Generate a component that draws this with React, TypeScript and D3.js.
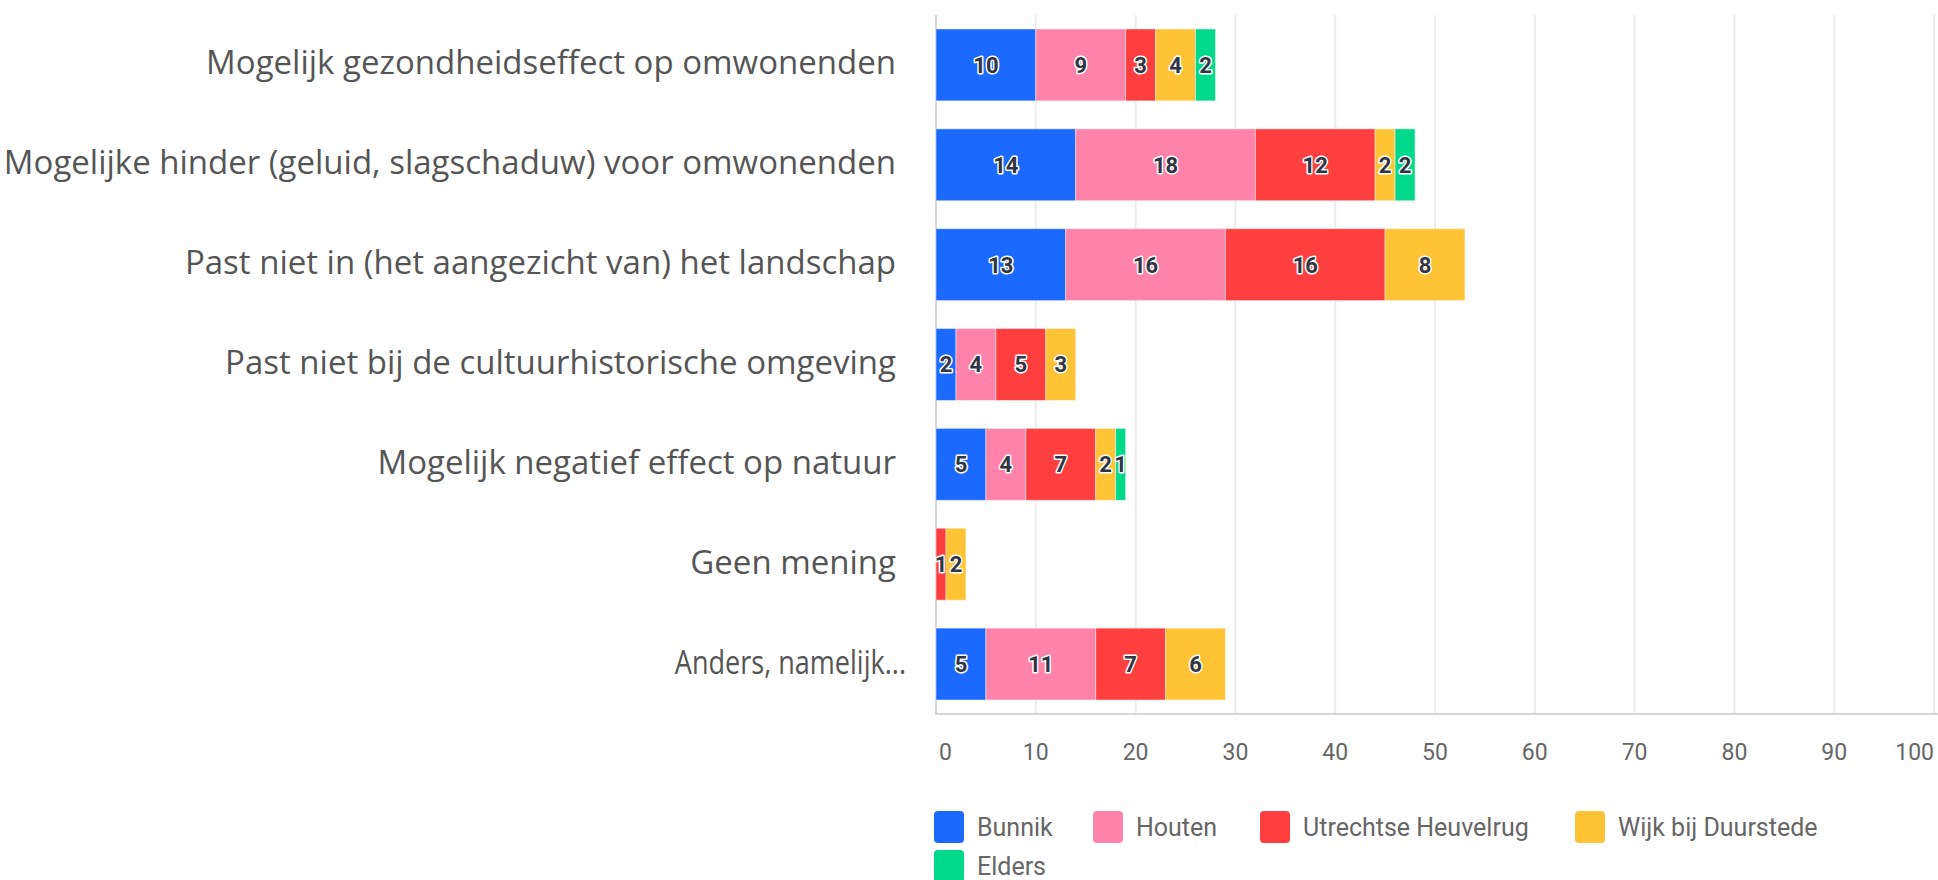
import React, { useEffect, useRef } from "react";
import * as d3 from "d3";

const categories = [
  "Mogelijk gezondheidseffect op omwonenden",
  "Mogelijke hinder (geluid, slagschaduw) voor omwonenden",
  "Past niet in (het aangezicht van) het landschap",
  "Past niet bij de cultuurhistorische omgeving",
  "Mogelijk negatief effect op natuur",
  "Geen mening",
  "Anders, namelijk...",
];

const seriesNames = ["Bunnik", "Houten", "Utrechtse Heuvelrug", "Wijk bij Duurstede", "Elders"];
const seriesColors = ["#1c69ff", "#ff82aa", "#ff3f3f", "#ffc336", "#00d98b"];

const bunnik = [10, 14, 13, 2, 5, 0, 5];
const houten = [9, 18, 16, 4, 4, 0, 11];
const utrechtseHeuvelrug = [3, 12, 16, 5, 7, 1, 7];
const wijkBijDuurstede = [4, 2, 8, 3, 2, 2, 6];
const elders = [2, 2, 0, 0, 1, 0, 0];

const xTicks = [0, 10, 20, 30, 40, 50, 60, 70, 80, 90, 100];

const W = 1938;
const H = 880;

export default function App() {
  const ref = useRef<SVGSVGElement>(null);

  useEffect(() => {
    document.body.style.margin = "0";
    document.body.style.overflow = "hidden";
    const svg = d3.select(ref.current);
    svg.selectAll("*").remove();

    const left = 936;
    const right = 1934;
    const top = 15;
    const bottom = 714;

    const x = d3.scaleLinear().domain([0, 100]).range([left, right]);
    const y = d3
      .scaleBand<string>()
      .domain(categories)
      .range([top, bottom])
      .paddingInner(0.28)
      .paddingOuter(0.14);

    const rows = categories.map((c, i) => ({
      cat: c,
      Bunnik: bunnik[i],
      Houten: houten[i],
      "Utrechtse Heuvelrug": utrechtseHeuvelrug[i],
      "Wijk bij Duurstede": wijkBijDuurstede[i],
      Elders: elders[i],
    }));
    const stack = d3.stack<any>().keys(seriesNames)(rows);

    // gridlines
    svg
      .append("g")
      .selectAll("line")
      .data(xTicks.slice(1))
      .join("line")
      .attr("x1", (d) => x(d))
      .attr("x2", (d) => x(d))
      .attr("y1", top)
      .attr("y2", bottom)
      .attr("stroke", "#ececec")
      .attr("stroke-width", 2);

    // axis lines
    svg
      .append("line")
      .attr("x1", left)
      .attr("x2", left)
      .attr("y1", top)
      .attr("y2", bottom)
      .attr("stroke", "#d6d6d6")
      .attr("stroke-width", 2);
    svg
      .append("line")
      .attr("x1", left - 1)
      .attr("x2", W)
      .attr("y1", bottom)
      .attr("y2", bottom)
      .attr("stroke", "#d6d6d6")
      .attr("stroke-width", 2);

    // tick labels
    svg
      .append("g")
      .selectAll("text")
      .data(xTicks)
      .join("text")
      .attr("x", (d, i) => (i === 0 ? x(d) + 3 : x(d)))
      .attr("y", 760)
      .attr("text-anchor", (d, i) => (i === 0 ? "start" : i === xTicks.length - 1 ? "end" : "middle"))
      .attr("font-family", "Roboto, 'Open Sans', sans-serif")
      .attr("font-size", 23)
      .attr("fill", "#666")
      .text((d) => String(d));

    // category labels
    const lastCat = categories[categories.length - 1];
    svg
      .append("g")
      .selectAll("text")
      .data(categories)
      .join("text")
      .attr("transform", (d) => {
        const cy = (y(d) as number) + y.bandwidth() / 2 - 2;
        return d === lastCat ? `translate(906,${cy}) scale(0.82,1)` : `translate(896,${cy})`;
      })
      .attr("dy", "0.35em")
      .attr("text-anchor", "end")
      .attr("font-family", "'Open Sans', Roboto, sans-serif")
      .attr("font-size", 33)
      .attr("fill", "#555")
      .text((d) => d);

    // bars
    const g = svg.append("g");
    stack.forEach((layer, si) => {
      const lg = g.append("g");
      lg.selectAll("rect")
        .data(layer.filter((d) => d[1] - d[0] > 0))
        .join("rect")
        .attr("x", (d) => x(d[0]))
        .attr("width", (d) => x(d[1]) - x(d[0]))
        .attr("y", (d) => y(d.data.cat) as number)
        .attr("height", y.bandwidth())
        .attr("fill", seriesColors[si])
        .attr("stroke", "rgba(255,255,255,0.45)")
        .attr("stroke-width", 1);
    });
    stack.forEach((layer) => {
      g.append("g")
        .selectAll("text")
        .data(layer.filter((d) => d[1] - d[0] > 0))
        .join("text")
        .attr("x", (d) => (x(d[0]) + x(d[1])) / 2)
        .attr("y", (d) => (y(d.data.cat) as number) + y.bandwidth() / 2)
        .attr("dy", "0.36em")
        .attr("text-anchor", "middle")
        .attr("font-family", "Roboto, 'Open Sans', sans-serif")
        .attr("font-weight", 700)
        .attr("font-size", 22)
        .attr("fill", "#2f3542")
        .attr("stroke", "#fff")
        .attr("stroke-width", 3)
        .attr("stroke-linejoin", "round")
        .attr("paint-order", "stroke")
        .text((d) => String(d[1] - d[0]));
    });

    // legend
    const legendPos = [
      { x: 934, y: 811 },
      { x: 1093, y: 811 },
      { x: 1260, y: 811 },
      { x: 1575, y: 811 },
      { x: 934, y: 850 },
    ];
    const lg = svg.append("g");
    seriesNames.forEach((name, i) => {
      const p = legendPos[i];
      lg.append("rect")
        .attr("x", p.x)
        .attr("y", p.y)
        .attr("width", 30)
        .attr("height", 32)
        .attr("rx", 4)
        .attr("fill", seriesColors[i]);
      lg.append("text")
        .attr("x", p.x + 43)
        .attr("y", p.y + 25)
        .attr("font-family", "Roboto, 'Open Sans', sans-serif")
        .attr("font-size", 25)
        .attr("fill", "#666")
        .text(name);
    });
  }, []);

  return <svg ref={ref} width={W} height={H} style={{ display: "block" }} />;
}
